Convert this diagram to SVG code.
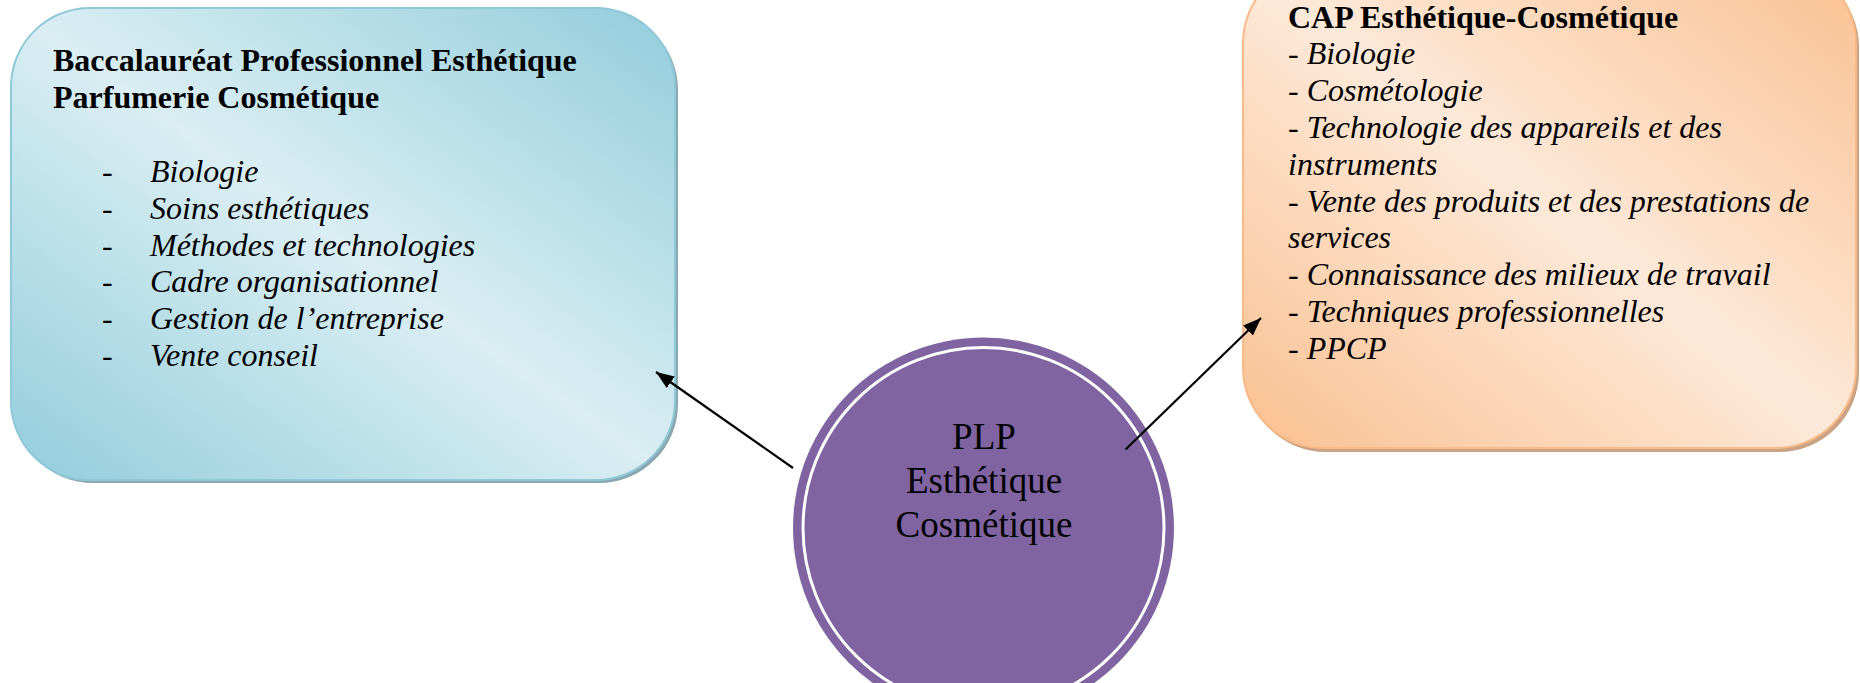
<svg xmlns="http://www.w3.org/2000/svg" width="1860" height="683" viewBox="0 0 1860 683">
  <defs>
    <linearGradient id="gBlue" x1="0" y1="1" x2="1" y2="0">
      <stop offset="0" stop-color="#92CDDC"/>
      <stop offset="0.5" stop-color="#DAEEF3"/>
      <stop offset="1" stop-color="#92CDDC"/>
    </linearGradient>
    <linearGradient id="gOrange" x1="0" y1="1" x2="1" y2="0">
      <stop offset="0" stop-color="#FAC090"/>
      <stop offset="0.5" stop-color="#FDE9D9"/>
      <stop offset="1" stop-color="#FAC090"/>
    </linearGradient>
    <marker id="arrow" markerUnits="userSpaceOnUse" markerWidth="20" markerHeight="16" refX="18" refY="7" orient="auto">
      <path d="M0,0 L18,7 L0,14 Z" fill="#000"/>
    </marker>
  </defs>
  <style>
    .t { font-family: "Liberation Serif", "Times New Roman", serif; font-size: 32px; fill: #000; }
    .b { font-weight: bold; }
    .i { font-style: italic; }
    .c { font-family: "Liberation Serif", "Times New Roman", serif; font-size: 37px; fill: #000; text-anchor: middle; }
    .conn { stroke: #000; stroke-width: 2.2; fill: none; marker-end: url(#arrow); }
  </style>
  <rect width="1860" height="683" fill="#FFFFFF"/>

  <g id="node-bac">
    <rect x="14" y="11" width="664" height="472" rx="79" fill="#8AA8B2"/>
    <rect x="11" y="8" width="664" height="472" rx="79" fill="url(#gBlue)" stroke="#8FC8D7" stroke-width="2"/>
    <text class="t b" x="53" y="71">Baccalauréat Professionnel Esthétique</text>
    <text class="t b" x="53" y="108">Parfumerie Cosmétique</text>
    <g class="t">
      <text x="102" y="182">-</text>
      <text x="102" y="218.8">-</text>
      <text x="102" y="255.6">-</text>
      <text x="102" y="292.4">-</text>
      <text x="102" y="329.2">-</text>
      <text x="102" y="366">-</text>
    </g>
    <g class="t i">
      <text x="150" y="182">Biologie</text>
      <text x="150" y="218.8">Soins esthétiques</text>
      <text x="150" y="255.6">Méthodes et technologies</text>
      <text x="150" y="292.4">Cadre organisationnel</text>
      <text x="150" y="329.2">Gestion de l’entreprise</text>
      <text x="150" y="366">Vente conseil</text>
    </g>
  </g>

  <g id="node-cap">
    <rect x="1246" y="-33" width="613" height="485" rx="80" fill="#C9A383"/>
    <rect x="1243" y="-37" width="613" height="485" rx="80" fill="url(#gOrange)" stroke="#F7BA88" stroke-width="2"/>
    <text class="t b" x="1288" y="27.5">CAP Esthétique-Cosmétique</text>
    <g class="t i">
      <text x="1288" y="64.3">- Biologie</text>
      <text x="1288" y="101.1">- Cosmétologie</text>
      <text x="1288" y="137.9">- Technologie des appareils et des</text>
      <text x="1288" y="174.7">instruments</text>
      <text x="1288" y="211.5">- Vente des produits et des prestations de</text>
      <text x="1288" y="248.3">services</text>
      <text x="1288" y="285.1">- Connaissance des milieux de travail</text>
      <text x="1288" y="321.9">- Techniques professionnelles</text>
      <text x="1288" y="358.7">- PPCP</text>
    </g>
  </g>

  <g id="node-plp">
    <circle cx="983.5" cy="528" r="190.5" fill="#8064A2"/>
    <circle cx="983.5" cy="528" r="180.5" fill="none" stroke="#FFFFFF" stroke-width="3"/>
    <text class="c" x="984" y="449">PLP</text>
    <text class="c" x="984" y="493">Esthétique</text>
    <text class="c" x="984" y="537">Cosmétique</text>
  </g>

  <g id="connectors">
    <line class="conn" x1="793" y1="468" x2="656" y2="372"/>
    <line class="conn" x1="1125.5" y1="449.5" x2="1261" y2="318"/>
  </g>
</svg>
